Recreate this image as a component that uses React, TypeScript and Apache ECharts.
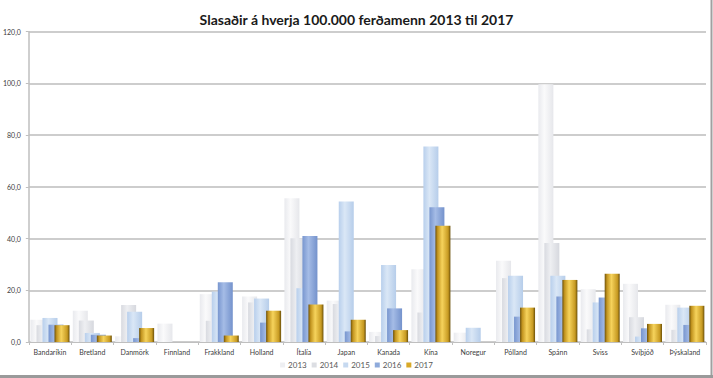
import React, { useEffect, useRef } from "react";
import * as echarts from "echarts";

const categories = [
  "Bandaríkin", "Bretland", "Danmörk", "Finnland", "Frakkland", "Holland",
  "Ítalía", "Japan", "Kanada", "Kína", "Noregur", "Pólland", "Spánn",
  "Sviss", "Svíþjóð", "Þýskaland",
];
const years = ["2013", "2014", "2015", "2016", "2017"];
const v2013 = [8.6, 12.1, 2.2, 7.1, 18.5, 17.6, 55.6, 16.0, 3.9, 28.1, 3.6, 31.4, 99.7, 20.4, 22.5, 14.4];
const v2014 = [6.5, 8.3, 14.3, 0, 8.2, 15.3, 40.1, 14.7, 2.3, 11.4, 0, 24.7, 38.3, 4.9, 9.6, 4.7];
const v2015 = [9.3, 3.5, 11.7, 0, 19.5, 16.8, 20.8, 54.3, 29.8, 75.6, 5.5, 25.6, 25.6, 15.3, 2.1, 13.3];
const v2016 = [6.7, 2.8, 1.5, 0, 23.1, 7.5, 41.0, 4.1, 13.0, 52.1, 0, 9.8, 17.6, 17.2, 5.3, 6.6];
const v2017 = [6.5, 2.5, 5.4, 0, 2.5, 12.1, 14.5, 8.6, 4.6, 45.0, 0, 13.3, 24.0, 26.4, 7.0, 14.0];
const yTicks = [0, 20, 40, 60, 80, 100, 120];

const seriesValues = [v2013, v2014, v2015, v2016, v2017];

const grad = (stops: [number, string][]) =>
  new echarts.graphic.LinearGradient(0, 0, 1, 0, stops.map(([offset, color]) => ({ offset, color })));

const fills = [
  grad([[0, "#e9eaee"], [0.4, "#fafafb"], [1, "#e6e7eb"]]),
  grad([[0, "#d8dae0"], [0.4, "#eeeff2"], [1, "#d6d8de"]]),
  grad([[0, "#b8cfec"], [0.4, "#dae7f6"], [1, "#b6cdea"]]),
  grad([[0, "#7896cf"], [0.4, "#a5bce6"], [1, "#7492cc"]]),
  grad([[0, "#6e520a"], [0.15, "#c39520"], [0.45, "#f6d35c"], [0.85, "#c79a22"], [1, "#6a4f08"]]),
];
const legendColors = ["#eeeff2", "#dcdee3", "#c6d9f0", "#8eaadb", "#d8a928"];

export default function App() {
  const ref = useRef<HTMLDivElement>(null);
  useEffect(() => {
    if (!ref.current) return;
    const chart = echarts.init(ref.current, null, { renderer: "svg" });
    chart.setOption({
      animation: false,
      backgroundColor: "#ffffff",
      title: {
        text: "Slasaðir á hverja 100.000 ferðamenn 2013 til 2017",
        left: "center",
        top: 7,
        textStyle: { fontFamily: "Lato", fontWeight: "bold", fontSize: 14, color: "#1a1a1a" },
      },
      legend: {
        bottom: 4,
        left: "center",
        itemWidth: 5,
        itemHeight: 5,
        itemGap: 5,
        icon: "rect",
        textStyle: { fontFamily: "Lato", fontSize: 8, color: "#595959", padding: [0, 0, 0, -2] },
        data: years.map((y, i) => ({ name: y, itemStyle: { color: legendColors[i] } })),
      },
      grid: { left: 26, right: 7, top: 31.7, bottom: 36, containLabel: false },
      xAxis: {
        type: "category",
        data: categories,
        axisLine: { lineStyle: { color: "#bfbfbf", width: 1 } },
        axisTick: { show: true, length: 3, lineStyle: { color: "#bfbfbf" } },
        axisLabel: { fontFamily: "Lato", fontSize: 7, color: "#404040", margin: 6, interval: 0 },
      },
      yAxis: {
        type: "value",
        min: 0,
        max: 120,
        interval: 20,
        axisLine: { show: true, lineStyle: { color: "#bfbfbf", width: 1.5 } },
        axisTick: { show: true, length: 3, lineStyle: { color: "#bfbfbf" } },
        splitLine: { lineStyle: { color: "#bdbdbd", width: 1.5 } },
        axisLabel: {
          fontFamily: "Lato",
          fontSize: 7,
          color: "#404040",
          margin: 8,
          formatter: (v: number) => (yTicks.includes(v) ? v.toFixed(1).replace(".", ",") : ""),
        },
      },
      series: years.map((y, i) => ({
        name: y,
        type: "bar",
        data: seriesValues[i],
        barWidth: 15,
        barGap: "-60%",
        itemStyle: { color: fills[i] },
      })),
      graphic: [
        { type: "line", shape: { x1: 711.5, y1: 0, x2: 711.5, y2: 378 }, style: { stroke: "#a0a0a0", lineWidth: 2 } },
        { type: "line", shape: { x1: 0, y1: 376.5, x2: 713, y2: 376.5 }, style: { stroke: "#9a9a9a", lineWidth: 3 } },
      ],
    });
    return () => chart.dispose();
  }, []);
  return <div ref={ref} style={{ position: "fixed", left: 0, top: 0, width: 713, height: 378 }} />;
}
